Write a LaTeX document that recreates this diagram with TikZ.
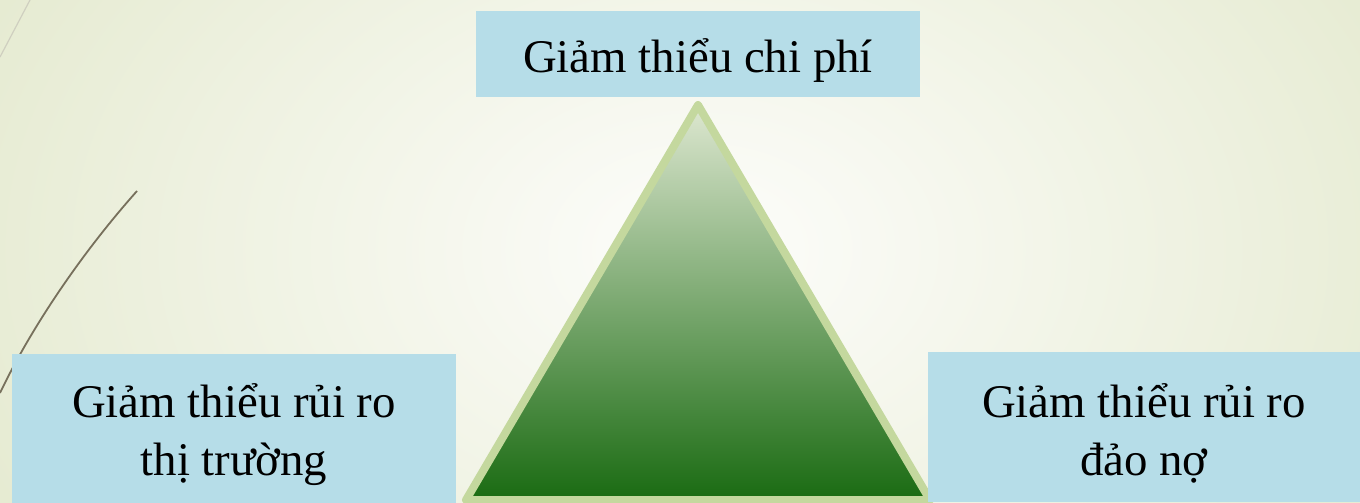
\documentclass[tikz,border=0pt]{standalone}
\usepackage{fontspec}
\setmainfont{Liberation Serif}
\usetikzlibrary{positioning}
\definecolor{bgEdge}{HTML}{E6EBD2}
\definecolor{bgMid}{HTML}{FDFDFB}
\definecolor{boxBlue}{HTML}{B6DDE8}
\definecolor{triTop}{HTML}{DDE7D0}
\definecolor{triMid}{HTML}{A8C281}
\definecolor{triBot}{HTML}{1A6B12}
\definecolor{triEdge}{HTML}{C4D89E}
\definecolor{stemDark}{HTML}{77705C}
\definecolor{stemLight}{HTML}{CFCFC0}
\newcommand{\goalstrut}{\rule{0pt}{46bp}}

\begin{document}
\begin{tikzpicture}[x=1bp, y=-1bp,
    goal/.style={fill=boxBlue, inner sep=0pt, align=center,
      font=\fontsize{47}{58}\selectfont}]
    \useasboundingbox (0,0) rectangle (1360,503);
    % background and the two thin strokes on the left
    \shade[inner color=bgMid, outer color=bgEdge] (-80,-300) rectangle (1480,800);
    \draw[stemLight, line width=1.2bp] (0,57) -- (30,0);
    \draw[stemDark, line width=1.8bp] (137,191) .. controls (80,255) and (30,330) .. (0,393);
    % pyramid
    \coordinate (apex) at (698,105);
    \coordinate (baseL) at (466,500);
    \coordinate (baseR) at (930,500);
    \shade[top color=triTop, middle color=triMid, bottom color=triBot,
      draw=triEdge, line width=8bp, line join=round]
      (apex) -- (baseR) -- (baseL) -- cycle;
    % the three aims
    \node[goal, minimum width=444bp, minimum height=86bp] (cost) at (698,54)
      {\goalstrut Giảm thiểu chi phí};
    \node[goal, minimum width=444bp, minimum height=149bp] (market) at (234,428.5)
      {\goalstrut Giảm thiểu rủi ro\\thị trường};
    \node[goal, minimum width=432bp, minimum height=150bp] (rollover) at (1144,427)
      {\goalstrut Giảm thiểu rủi ro\\đảo nợ};
\end{tikzpicture}
\end{document}
